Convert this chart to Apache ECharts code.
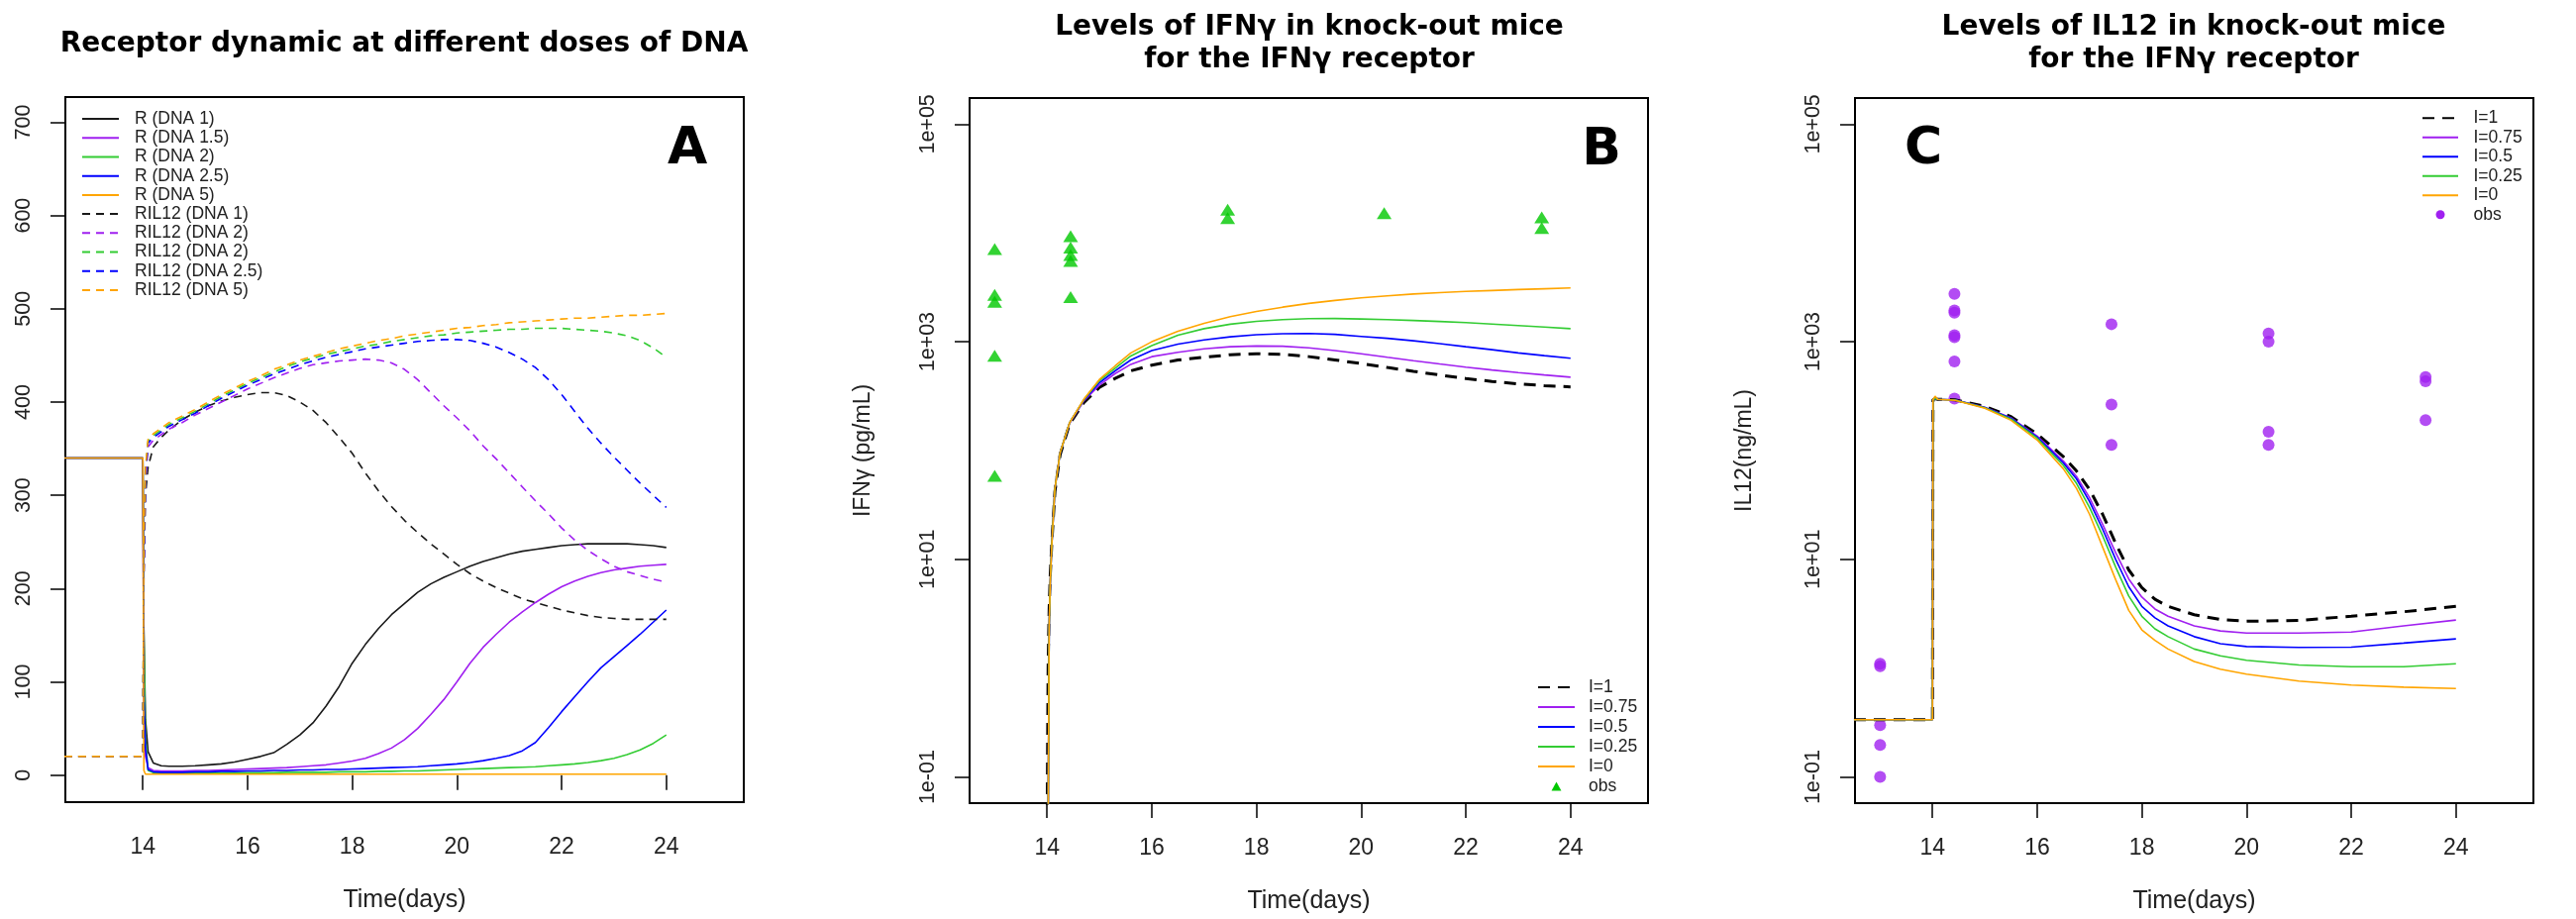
<!DOCTYPE html>
<html>
<head>
<meta charset="utf-8">
<title>Receptor dynamic / IFNg / IL12</title>
<script src="https://cdn.jsdelivr.net/npm/echarts@6.0.0/dist/echarts.min.js"></script>
<style>
  html, body { margin: 0; padding: 0; background: #fff; }
  #chart { width: 2601px; height: 928px; }
</style>
</head>
<body>
<div id="chart"></div>
<script>
// ---- panel A : receptor dynamic (time in days) ----
var tA = [12.5, 14, 14.02, 14.05, 14.1, 14.2, 14.35, 14.5, 14.75, 15, 15.25, 15.5, 15.75, 16, 16.25, 16.5, 16.75, 17, 17.25, 17.5, 17.75, 18, 18.25, 18.5, 18.75, 19, 19.25, 19.5, 19.75, 20, 20.25, 20.5, 20.75, 21, 21.25, 21.5, 21.75, 22, 22.25, 22.5, 22.75, 23, 23.25, 23.5, 23.75, 24];
var rDna1   = [340, 340, 155, 60, 25, 13, 10, 9.5, 9.5, 10, 11, 12, 14, 17, 20, 24, 33, 43, 56, 74, 95, 120, 140, 157, 172, 184, 196, 205, 212, 218, 224, 229, 233, 237, 240, 242, 244, 246, 247, 248, 248, 248, 248, 247, 246, 244];
var rDna15  = [340, 340, 60, 20, 8, 5, 4.5, 4.5, 4.5, 5, 5, 5.5, 6, 6.5, 7, 7.5, 8, 9, 10, 11, 13, 15, 18, 23, 29, 38, 50, 65, 81, 100, 120, 137, 151, 164, 175, 185, 194, 202, 208, 213, 217, 220, 222, 224, 225, 226];
var rDna2   = [340, 340, 150, 40, 5, 2.5, 2, 2, 2, 2, 2, 2, 2.5, 2.5, 2.5, 2.5, 3, 3, 3, 3, 3.5, 3.5, 3.5, 4, 4, 4.5, 4.5, 5, 5.5, 6, 6.5, 7, 7.5, 8, 8.5, 9, 10, 11, 12, 13.5, 15.5, 18, 22, 27, 34, 43];
var rDna25  = [340, 340, 90, 30, 6, 3.5, 3, 3, 3, 3.5, 3.5, 4, 4, 4.5, 4.5, 5, 5, 5.5, 5.5, 6, 6, 6.5, 7, 7.5, 8, 8.5, 9, 10, 11, 12, 13.5, 15.5, 18, 21, 26, 35, 51, 68, 84, 100, 115, 127, 139, 151, 164, 177];
var rDna5   = [340, 340, 5, 1, 1, 1, 1, 1, 1, 1, 1, 1, 1, 1, 1, 1, 1, 1, 1, 1, 1, 1, 1, 1, 1, 1, 1, 1, 1, 1, 1, 1, 1, 1, 1, 1, 1, 1, 1, 1, 1, 1, 1, 1, 1, 1];
var rilDna1  = [20, 20, 210, 300, 330, 352, 362, 370, 381, 389, 396, 401, 405, 408, 410, 410, 407, 400, 391, 378, 362, 345, 324, 305, 288, 273, 260, 248, 237, 226, 216, 208, 201, 195, 189, 185, 181, 177, 174, 171, 169, 168, 167, 167, 167, 167];
var rilDna15 = [20, 20, 220, 315, 352, 359, 365, 371, 378, 386, 393, 400, 407, 414, 420, 426, 431, 436, 440, 442, 444, 445, 446, 445, 442, 435, 424, 410, 396, 383, 369, 353, 339, 324, 309, 294, 280, 265, 252, 241, 232, 224, 218, 214, 210, 207];
var rilDna2  = [20, 20, 240, 325, 358, 364, 370, 376, 383, 390, 398, 406, 413, 420, 426, 432, 438, 443, 447, 451, 454, 457, 460, 462, 465, 467, 469, 471, 472, 474, 475, 476, 477, 478, 478, 479, 479, 479, 478, 477, 476, 474, 471, 466, 458, 448];
var rilDna25 = [20, 20, 230, 320, 356, 362, 368, 374, 381, 388, 396, 404, 411, 418, 424, 430, 435, 440, 444, 448, 451, 454, 457, 459, 461, 463, 465, 466, 467, 467, 466, 463, 459, 453, 446, 437, 424, 408, 390, 372, 356, 341, 327, 313, 300, 287];
var rilDna5  = [20, 20, 250, 330, 360, 366, 372, 378, 385, 392, 400, 408, 415, 422, 428, 435, 440, 445, 449, 453, 457, 460, 463, 466, 468, 471, 473, 475, 477, 479, 480, 482, 483, 485, 486, 487, 488, 489, 490, 490, 491, 492, 493, 493, 494, 495];
var ticksA = [0, 100, 200, 300, 400, 500, 600, 700];

// ---- panel B : IFNg (pg/mL) ----
var tB = [14, 14.02, 14.03, 14.04, 14.06, 14.09, 14.15, 14.25, 14.43, 14.7, 15, 15.3, 15.6, 16, 16.5, 17, 17.5, 18, 18.5, 19, 19.5, 20, 20.5, 21, 21.5, 22, 22.5, 23, 23.5, 24];
var ifnI1   = [0.03, 1, 2, 3.5, 7, 14, 42, 92, 175, 275, 380, 460, 540, 610, 680, 720, 760, 775, 765, 730, 680, 630, 580, 535, 495, 460, 432, 410, 395, 385];
var ifnI075 = [0.001, 0.03, 0.3, 2.4, 6, 13.6, 45, 96, 178, 285, 400, 510, 620, 730, 800, 860, 900, 915, 910, 880, 830, 775, 720, 670, 625, 585, 550, 520, 495, 473];
var ifnI05  = [0.001, 0.03, 0.3, 2.4, 6, 13.6, 45, 96, 180, 290, 420, 540, 680, 830, 950, 1040, 1110, 1160, 1185, 1190, 1170, 1120, 1075, 1020, 960, 900, 845, 790, 745, 705];
var ifnI025 = [0.001, 0.03, 0.3, 2.4, 6, 13.6, 45, 96, 180, 292, 440, 570, 740, 920, 1150, 1320, 1450, 1540, 1600, 1630, 1635, 1620, 1600, 1570, 1535, 1500, 1455, 1410, 1365, 1320];
var ifnI0   = [0.001, 0.03, 0.3, 2.4, 6, 13.6, 45, 96, 180, 295, 450, 600, 790, 1000, 1250, 1480, 1700, 1900, 2080, 2250, 2400, 2530, 2640, 2750, 2830, 2900, 2960, 3020, 3070, 3120];
var obsBDay = [13, 13, 13, 13, 13, 14.45, 14.45, 14.45, 14.45, 14.45, 17.45, 17.45, 20.44, 23.45, 23.45];
var obsBVal = [7100, 2700, 2330, 743, 58.5, 9350, 7330, 6280, 5540, 2570, 16400, 13700, 15200, 13900, 11100];

// ---- panel C : IL12 (ng/mL) ----
var tC = [12.5, 14, 14.01, 14.05, 14.1, 14.43, 15, 15.5, 16, 16.5, 16.75, 17, 17.25, 17.5, 17.75, 18, 18.25, 18.5, 19, 19.5, 20, 21, 22, 23, 24];
var il12I1   = [0.336, 0.336, 294, 300, 296, 293, 255, 205, 142, 88, 65, 44, 26, 14, 8, 5.5, 4.3, 3.7, 3.1, 2.8, 2.7, 2.75, 3.0, 3.3, 3.7];
var il12I075 = [0.336, 0.336, 294, 300, 296, 292, 250, 200, 136, 80, 58, 37, 21, 11.5, 6.6, 4.5, 3.5, 3.0, 2.45, 2.2, 2.1, 2.1, 2.15, 2.45, 2.77];
var il12I05  = [0.336, 0.336, 294, 300, 296, 291, 249, 198, 133, 77, 55, 34, 19, 10, 5.6, 3.7, 2.9, 2.45, 1.95, 1.68, 1.58, 1.55, 1.56, 1.7, 1.86];
var il12I025 = [0.336, 0.336, 294, 300, 296, 291, 247, 195, 130, 73, 50, 30, 16.5, 8.5, 4.6, 3.0, 2.3, 1.95, 1.5, 1.3, 1.18, 1.07, 1.03, 1.03, 1.1];
var il12I0   = [0.336, 0.336, 294, 316, 296, 290, 245, 190, 125, 68, 45, 26, 13, 6.5, 3.4, 2.25, 1.8, 1.5, 1.15, 0.98, 0.88, 0.76, 0.7, 0.67, 0.65];
var obsCDay = [13, 13, 13, 13, 13, 14.42, 14.42, 14.42, 14.42, 14.42, 14.42, 14.42, 17.42, 17.42, 17.42, 20.42, 20.42, 20.42, 20.42, 23.42, 23.42, 23.42];
var obsCVal = [1.04, 1.1, 0.3, 0.197, 0.1, 2760, 1942, 1850, 1151, 1100, 658, 300, 1450, 265, 113, 1190, 1000, 149, 113, 473, 433, 190];

var ticksX = [14, 16, 18, 20, 22, 24];
var ticksLog = [0.1, 10, 1000, 100000];

var BLACK = '#1a1a1a', PURPLE = '#a020f0', GREEN = '#33cc33', BLUE = '#0000ff', ORANGE = '#ffa500';
var TXT = 'Liberation Sans';

function pairs(t, v) {
    return t.map(function (x, i) { return [x, v[i]]; });
}

function lineSerie(name, idx, t, v, color, dashed, width) {
    return {
        name: name, type: 'line', xAxisIndex: idx, yAxisIndex: idx,
        data: pairs(t, v), symbol: 'none', clip: true, silent: true,
        itemStyle: { color: color },
        lineStyle: { color: color, width: width || 1.6, type: dashed ? dashed : 'solid' }
    };
}

function xAxisOf(idx) {
    return {
        type: 'value', gridIndex: idx, min: 12.52, max: 25.48,
        axisLine: { show: false }, splitLine: { show: false },
        axisTick: { customValues: ticksX, length: 15, lineStyle: { color: '#000', width: 1.5 } },
        axisLabel: { customValues: ticksX, margin: 34, fontSize: 23, color: '#222', fontFamily: TXT },
        name: 'Time(days)', nameLocation: 'middle', nameGap: 87,
        nameTextStyle: { fontSize: 25, color: '#222', fontFamily: TXT }
    };
}

function logFmt(v) {
    var e = Math.round(Math.log10(v));
    return '1e' + (e < 0 ? '-' : '+') + (Math.abs(e) < 10 ? '0' : '') + Math.abs(e);
}

function logAxisOf(idx, name, gap) {
    return {
        type: 'log', logBase: 10, gridIndex: idx, min: 0.0575, max: 173780,
        axisLine: { show: false }, splitLine: { show: false }, minorTick: { show: false },
        axisTick: { customValues: ticksLog, length: 15, lineStyle: { color: '#000', width: 1.5 } },
        axisLabel: { customValues: ticksLog, rotate: 90, margin: 31, fontSize: 21.5, color: '#222', fontFamily: TXT, formatter: logFmt },
        name: name, nameLocation: 'middle', nameGap: gap,
        nameTextStyle: { fontSize: 23, color: '#222', fontFamily: TXT }
    };
}

var titleFont = { fontFamily: 'DejaVu Sans', fontWeight: 'bold', fontSize: 28, color: '#000', lineHeight: 33 };
var letterFont = { fontFamily: 'DejaVu Sans', fontWeight: 'bold', fontSize: 52, color: '#000' };
var legendText = { fontSize: 17.5, color: '#222', fontFamily: TXT };
var stripZw = function (n) { return n.replace(/\u200b/g, ''); };

var namesA = ['R (DNA 1)', 'R (DNA 1.5)', 'R (DNA 2)', 'R (DNA 2.5)', 'R (DNA 5)',
    'RIL12 (DNA 1)', 'RIL12 (DNA 2)', 'RIL12 (DNA 2)\u200b', 'RIL12 (DNA 2.5)', 'RIL12 (DNA 5)'];
var namesB = ['I=1', 'I=0.75', 'I=0.5', 'I=0.25', 'I=0', 'obs'];
var namesC = namesB.map(function (n) { return n + '\u200b'; });

var DASH_A = [8, 6];
var DASH_I1 = [12, 8];

var series = [
    lineSerie(namesA[0], 0, tA, rDna1, BLACK),
    lineSerie(namesA[1], 0, tA, rDna15, PURPLE),
    lineSerie(namesA[2], 0, tA, rDna2, GREEN),
    lineSerie(namesA[3], 0, tA, rDna25, BLUE),
    lineSerie(namesA[4], 0, tA, rDna5, ORANGE),
    lineSerie(namesA[5], 0, tA, rilDna1, BLACK, DASH_A),
    lineSerie(namesA[6], 0, tA, rilDna15, PURPLE, DASH_A),
    lineSerie(namesA[7], 0, tA, rilDna2, GREEN, DASH_A),
    lineSerie(namesA[8], 0, tA, rilDna25, BLUE, DASH_A),
    lineSerie(namesA[9], 0, tA, rilDna5, ORANGE, DASH_A),

    lineSerie(namesB[0], 1, tB, ifnI1, '#000', DASH_I1, 3),
    lineSerie(namesB[1], 1, tB, ifnI075, PURPLE),
    lineSerie(namesB[2], 1, tB, ifnI05, BLUE),
    lineSerie(namesB[3], 1, tB, ifnI025, GREEN),
    lineSerie(namesB[4], 1, tB, ifnI0, ORANGE),
    {
        name: namesB[5], type: 'scatter', xAxisIndex: 1, yAxisIndex: 1, silent: true,
        data: pairs(obsBDay, obsBVal), symbol: 'triangle', symbolSize: [15, 12],
        itemStyle: { color: '#00c800' }
    },

    lineSerie(namesC[0], 2, tC, il12I1, '#000', DASH_I1, 3),
    lineSerie(namesC[1], 2, tC, il12I075, PURPLE),
    lineSerie(namesC[2], 2, tC, il12I05, BLUE),
    lineSerie(namesC[3], 2, tC, il12I025, GREEN),
    lineSerie(namesC[4], 2, tC, il12I0, ORANGE),
    {
        name: namesC[5], type: 'scatter', xAxisIndex: 2, yAxisIndex: 2, silent: true,
        data: pairs(obsCDay, obsCVal), symbol: 'circle', symbolSize: 12,
        itemStyle: { color: PURPLE }
    }
];

// legend entries: hide the marker that echarts puts on line icons, keep it for "obs"
function legendItems(names, obsIcon) {
    return names.map(function (n, i) {
        if (i === names.length - 1 && obsIcon) {
            return { name: n, icon: obsIcon, symbolKeepAspect: true, itemStyle: { opacity: 1 } };
        }
        return { name: n };
    });
}

var gridStyle = { show: true, borderColor: '#000', borderWidth: 2, backgroundColor: 'transparent' };

var option = {
    animation: false,
    backgroundColor: '#fff',
    title: [
        { text: 'Receptor dynamic at different doses of DNA', left: 408, top: 28, textAlign: 'center', padding: 0, textStyle: titleFont },
        { text: 'Levels of IFNγ in knock-out mice\nfor the IFNγ receptor', left: 1322, top: 11, textAlign: 'center', padding: 0, textStyle: titleFont },
        { text: 'Levels of IL12 in knock-out mice\nfor the IFNγ receptor', left: 2215, top: 11, textAlign: 'center', padding: 0, textStyle: titleFont },
        { text: 'A', left: 694, top: 125, textAlign: 'center', padding: 0, textStyle: letterFont },
        { text: 'B', left: 1617, top: 126, textAlign: 'center', padding: 0, textStyle: letterFont },
        { text: 'C', left: 1942, top: 125, textAlign: 'center', padding: 0, textStyle: letterFont }
    ],
    grid: [
        Object.assign({ left: 66, top: 98, width: 685, height: 712 }, gridStyle),
        Object.assign({ left: 979, top: 99, width: 685, height: 712 }, gridStyle),
        Object.assign({ left: 1873, top: 99, width: 685, height: 712 }, gridStyle)
    ],
    xAxis: [xAxisOf(0), xAxisOf(1), xAxisOf(2)],
    yAxis: [
        {
            type: 'value', gridIndex: 0, min: -29, max: 727,
            axisLine: { show: false }, splitLine: { show: false },
            axisTick: { customValues: ticksA, length: 15, lineStyle: { color: '#000', width: 1.5 } },
            axisLabel: { customValues: ticksA, rotate: 90, margin: 31, fontSize: 21.5, color: '#222', fontFamily: TXT }
        },
        logAxisOf(1, 'IFNγ (pg/mL)', 96),
        logAxisOf(2, 'IL12(ng/mL)', 100)
    ],
    legend: [
        {
            orient: 'vertical', left: 82, top: 110.5, padding: 0, itemGap: 0,
            itemWidth: 37, itemHeight: 12, selectedMode: false, data: legendItems(namesA, null), formatter: stripZw,
            itemStyle: { opacity: 0 },
            textStyle: Object.assign({ lineHeight: 19.2, padding: [0, 0, 0, 11] }, legendText)
        },
        {
            orient: 'vertical', left: 1552, top: 684, padding: 0, itemGap: 0, symbolKeepAspect: true,
            itemWidth: 37, itemHeight: 9, selectedMode: false, data: legendItems(namesB, 'path://M0,10L5.5,0L11,10Z'), formatter: stripZw,
            itemStyle: { opacity: 0 },
            textStyle: Object.assign({ lineHeight: 20, padding: [0, 0, 0, 9] }, legendText)
        },
        {
            orient: 'vertical', left: 2445, top: 109.5, padding: 0, itemGap: 0, symbolKeepAspect: true,
            itemWidth: 36, itemHeight: 9, selectedMode: false, data: legendItems(namesC, 'circle'), formatter: stripZw,
            itemStyle: { opacity: 0 },
            textStyle: Object.assign({ lineHeight: 19.5, padding: [0, 0, 0, 10.5] }, legendText)
        }
    ],
    series: series
};

var chart = echarts.init(document.getElementById('chart'), null, { renderer: 'canvas' });
chart.setOption(option);
</script>
</body>
</html>
